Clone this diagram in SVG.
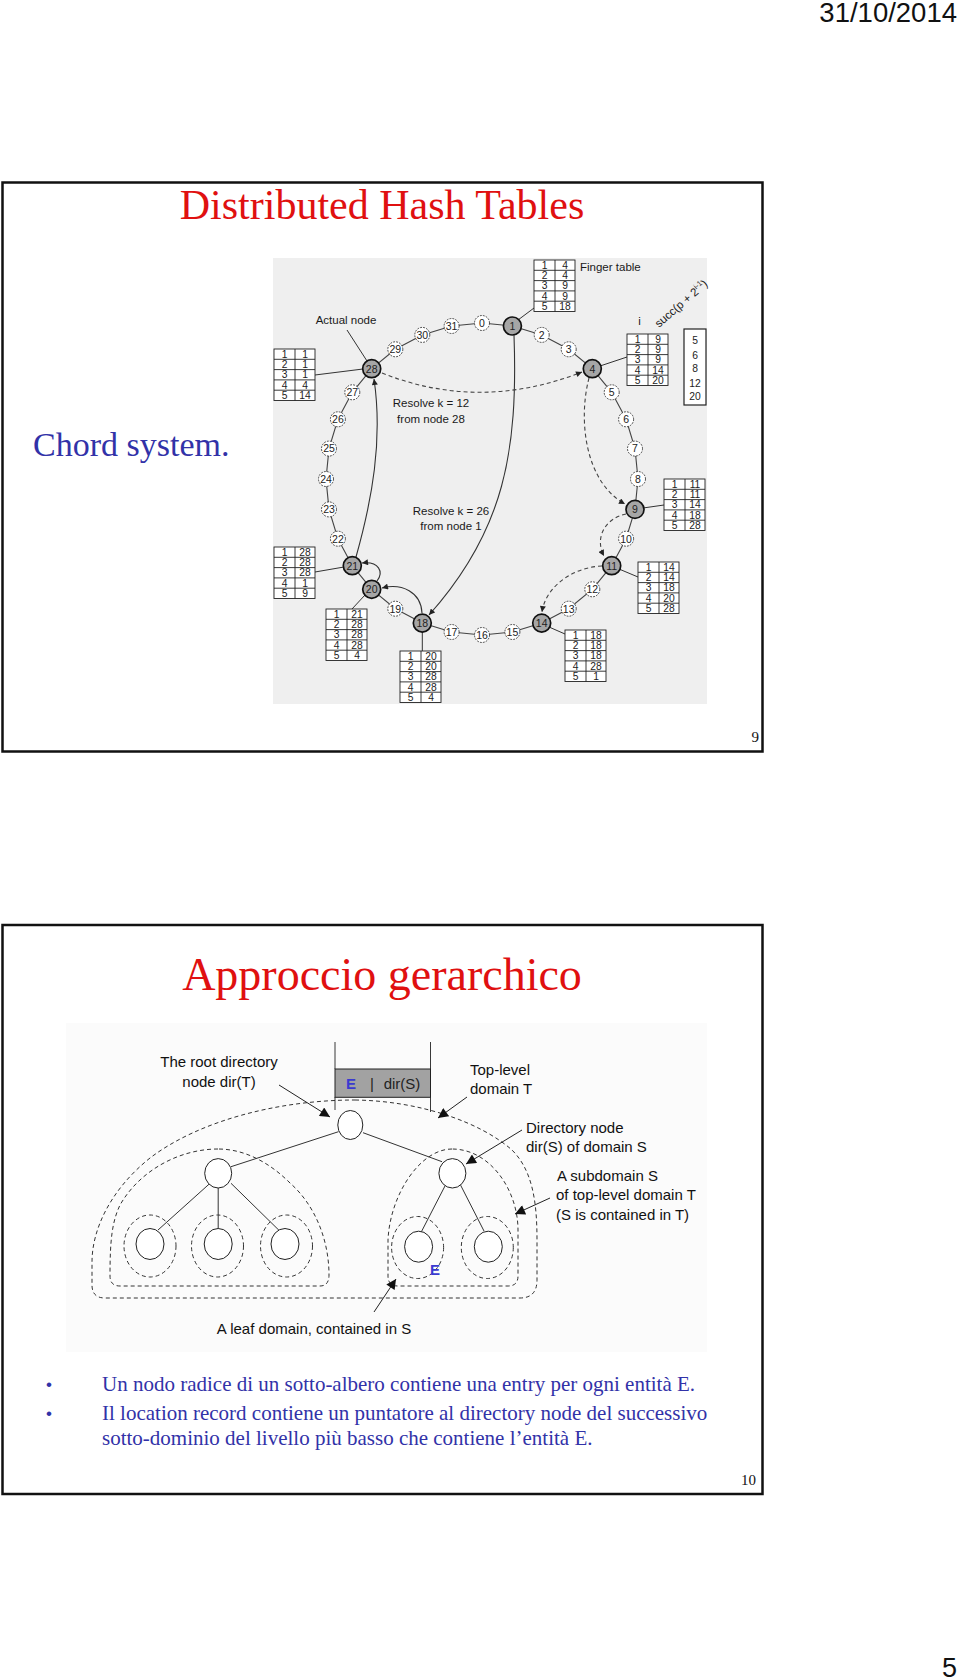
<svg xmlns="http://www.w3.org/2000/svg" xmlns:xlink="http://www.w3.org/1999/xlink" width="960" height="1680" viewBox="0 0 960 1680">
<style>
.frame{fill:none;stroke:#111;stroke-width:2.5}
.title{font-family:"Liberation Serif","Times New Roman",serif;fill:#e01010;text-anchor:middle}
.blue{font-family:"Liberation Serif","Times New Roman",serif;fill:#3232a8}
.bul{font-family:"Liberation Sans",Arial,sans-serif;fill:#3232a8;font-size:17px}
.pnum{font-family:"Liberation Serif","Times New Roman",serif;font-size:15px;fill:#111;text-anchor:end}
.ring{fill:none;stroke:#444;stroke-width:1.1}
.dn{fill:#fff;stroke:#333;stroke-width:0.9;stroke-dasharray:1.8 1.2}
.fn{fill:#a6a6a6;stroke:#111;stroke-width:1.7}
.nl{font-family:"Liberation Sans",Arial,sans-serif;font-size:10.5px;fill:#222;text-anchor:middle}
.tb{fill:#fff;stroke:#222;stroke-width:0.9}
.tt{font-family:"Liberation Sans",Arial,sans-serif;font-size:10.3px;fill:#222;text-anchor:middle}
.lbl{font-family:"Liberation Sans",Arial,sans-serif;font-size:11.5px;fill:#1a1a1a}
.ln{fill:none;stroke:#333;stroke-width:1}
.arr{fill:none;stroke:#333;stroke-width:1.1;marker-end:url(#ah)}
.darr{fill:none;stroke:#444;stroke-width:1.1;stroke-dasharray:4 3;marker-end:url(#ah)}
.dom{fill:none;stroke:#333;stroke-width:1;stroke-dasharray:4 3}
.hn{fill:#fff;stroke:#222;stroke-width:1}
.hl{font-family:"Liberation Sans",Arial,sans-serif;font-size:15px;fill:#111}
.harr{fill:none;stroke:#222;stroke-width:1;marker-end:url(#ah2)}
</style>
<defs>
<marker id="ah" viewBox="0 0 10 10" refX="10" refY="5" markerWidth="7" markerHeight="6" markerUnits="userSpaceOnUse" orient="auto"><path d="M0,0 L10,5 L0,10 z" fill="#222"/></marker>
<marker id="ah2" viewBox="0 0 10 10" refX="10" refY="5" markerWidth="13" markerHeight="10" markerUnits="userSpaceOnUse" orient="auto"><path d="M0,0 L10,5 L0,10 z" fill="#111"/></marker>
<g id="grid"><rect x="0" y="0" width="41" height="51.5" class="tb"/><path d="M21 0V51.5M0 10.3H41M0 20.6H41M0 30.9H41M0 41.2H41" stroke="#222" stroke-width="0.9" fill="none"/></g>
</defs>
<rect x="0" y="0" width="960" height="1680" fill="#fff"/>
<text x="957" y="22" font-family="Liberation Sans, Arial, sans-serif" font-size="27.5" fill="#111" text-anchor="end">31/10/2014</text>
<text x="957" y="1677" font-family="Liberation Sans, Arial, sans-serif" font-size="27" fill="#111" text-anchor="end">5</text>

<!-- Slide 1 -->
<g id="slide1">
<rect class="frame" x="2.5" y="182.5" width="760" height="569"/>
<text class="title" x="382" y="219" font-size="42">Distributed Hash Tables</text>
<text class="blue" x="33" y="456" font-size="34">Chord system.</text>
<text class="pnum" x="759" y="742">9</text>
</g>

<g id="chord">
<rect x="273" y="258" width="434" height="446" fill="#efefef"/>
<polygon class="ring" points="482,323 512.4,326 541.7,334.9 568.7,349.3 592.3,368.7 611.7,392.3 626.1,419.3 635,448.6 638,479 635,509.4 626.1,538.7 611.7,565.7 592.3,589.3 568.7,608.7 541.7,623.1 512.4,632 482,635 451.6,632 422.3,623.1 395.3,608.7 371.7,589.3 352.3,565.7 337.9,538.7 329,509.4 326,479 329,448.6 337.9,419.3 352.3,392.3 371.7,368.7 395.3,349.3 422.3,334.9 451.6,326"/>
<g id="table-links">
<path class="ln" d="M518 320L534 308M600 366L627 357M315 375L363 369M643 508L664 505M619 569L638 577M549 627L565 634M422.3 631.6L422.3 651M365 595L352 609M315 572L344 567M347 330L367 361"/>
</g>
<g id="connectors">
<path class="arr" d="M514 335 C518 450, 505 530, 429 615"/>
<path class="arr" d="M356 557 C372 500, 383 440, 374 379"/>
<path class="arr" d="M422 613 C421 592, 402 583, 382 588"/>
<path class="arr" d="M377 581 C384 572, 379 561, 362 563"/>
<path class="darr" d="M382 373 Q480 412, 582 372"/>
<path class="darr" d="M589 378 C578 420, 585 482, 625 504"/>
<path class="darr" d="M626 514 C606 518, 594 537, 604 556"/>
<path class="darr" d="M602 566 C575 567, 546 585, 542 612"/>
</g>
<g id="n0"><circle class="dn" cx="482" cy="323" r="7.5"/><text class="nl" x="482" y="326.8">0</text></g>
<g id="n1"><circle class="fn" cx="512.4" cy="326" r="9"/><text class="nl" x="512.4" y="329.8">1</text></g>
<g id="n2"><circle class="dn" cx="541.7" cy="334.9" r="7.5"/><text class="nl" x="541.7" y="338.7">2</text></g>
<g id="n3"><circle class="dn" cx="568.7" cy="349.3" r="7.5"/><text class="nl" x="568.7" y="353.1">3</text></g>
<g id="n4"><circle class="fn" cx="592.3" cy="368.7" r="9"/><text class="nl" x="592.3" y="372.5">4</text></g>
<g id="n5"><circle class="dn" cx="611.7" cy="392.3" r="7.5"/><text class="nl" x="611.7" y="396.1">5</text></g>
<g id="n6"><circle class="dn" cx="626.1" cy="419.3" r="7.5"/><text class="nl" x="626.1" y="423.1">6</text></g>
<g id="n7"><circle class="dn" cx="635" cy="448.6" r="7.5"/><text class="nl" x="635" y="452.4">7</text></g>
<g id="n8"><circle class="dn" cx="638" cy="479" r="7.5"/><text class="nl" x="638" y="482.8">8</text></g>
<g id="n9"><circle class="fn" cx="635" cy="509.4" r="9"/><text class="nl" x="635" y="513.2">9</text></g>
<g id="n10"><circle class="dn" cx="626.1" cy="538.7" r="7.5"/><text class="nl" x="626.1" y="542.5">10</text></g>
<g id="n11"><circle class="fn" cx="611.7" cy="565.7" r="9"/><text class="nl" x="611.7" y="569.5">11</text></g>
<g id="n12"><circle class="dn" cx="592.3" cy="589.3" r="7.5"/><text class="nl" x="592.3" y="593.1">12</text></g>
<g id="n13"><circle class="dn" cx="568.7" cy="608.7" r="7.5"/><text class="nl" x="568.7" y="612.5">13</text></g>
<g id="n14"><circle class="fn" cx="541.7" cy="623.1" r="9"/><text class="nl" x="541.7" y="626.9">14</text></g>
<g id="n15"><circle class="dn" cx="512.4" cy="632" r="7.5"/><text class="nl" x="512.4" y="635.8">15</text></g>
<g id="n16"><circle class="dn" cx="482" cy="635" r="7.5"/><text class="nl" x="482" y="638.8">16</text></g>
<g id="n17"><circle class="dn" cx="451.6" cy="632" r="7.5"/><text class="nl" x="451.6" y="635.8">17</text></g>
<g id="n18"><circle class="fn" cx="422.3" cy="623.1" r="9"/><text class="nl" x="422.3" y="626.9">18</text></g>
<g id="n19"><circle class="dn" cx="395.3" cy="608.7" r="7.5"/><text class="nl" x="395.3" y="612.5">19</text></g>
<g id="n20"><circle class="fn" cx="371.7" cy="589.3" r="9"/><text class="nl" x="371.7" y="593.1">20</text></g>
<g id="n21"><circle class="fn" cx="352.3" cy="565.7" r="9"/><text class="nl" x="352.3" y="569.5">21</text></g>
<g id="n22"><circle class="dn" cx="337.9" cy="538.7" r="7.5"/><text class="nl" x="337.9" y="542.5">22</text></g>
<g id="n23"><circle class="dn" cx="329" cy="509.4" r="7.5"/><text class="nl" x="329" y="513.2">23</text></g>
<g id="n24"><circle class="dn" cx="326" cy="479" r="7.5"/><text class="nl" x="326" y="482.8">24</text></g>
<g id="n25"><circle class="dn" cx="329" cy="448.6" r="7.5"/><text class="nl" x="329" y="452.4">25</text></g>
<g id="n26"><circle class="dn" cx="337.9" cy="419.3" r="7.5"/><text class="nl" x="337.9" y="423.1">26</text></g>
<g id="n27"><circle class="dn" cx="352.3" cy="392.3" r="7.5"/><text class="nl" x="352.3" y="396.1">27</text></g>
<g id="n28"><circle class="fn" cx="371.7" cy="368.7" r="9"/><text class="nl" x="371.7" y="372.5">28</text></g>
<g id="n29"><circle class="dn" cx="395.3" cy="349.3" r="7.5"/><text class="nl" x="395.3" y="353.1">29</text></g>
<g id="n30"><circle class="dn" cx="422.3" cy="334.9" r="7.5"/><text class="nl" x="422.3" y="338.7">30</text></g>
<g id="n31"><circle class="dn" cx="451.6" cy="326" r="7.5"/><text class="nl" x="451.6" y="329.8">31</text></g>

<g id="t1" transform="translate(534,260)"><use xlink:href="#grid"/><text class="tt"><tspan x="10.5" y="8.8">1</tspan><tspan x="10.5" y="19.1">2</tspan><tspan x="10.5" y="29.4">3</tspan><tspan x="10.5" y="39.7">4</tspan><tspan x="10.5" y="50">5</tspan><tspan x="31" y="8.8">4</tspan><tspan x="31" y="19.1">4</tspan><tspan x="31" y="29.4">9</tspan><tspan x="31" y="39.7">9</tspan><tspan x="31" y="50">18</tspan></text></g>
<g id="t4" transform="translate(627,334)"><use xlink:href="#grid"/><text class="tt"><tspan x="10.5" y="8.8">1</tspan><tspan x="10.5" y="19.1">2</tspan><tspan x="10.5" y="29.4">3</tspan><tspan x="10.5" y="39.7">4</tspan><tspan x="10.5" y="50">5</tspan><tspan x="31" y="8.8">9</tspan><tspan x="31" y="19.1">9</tspan><tspan x="31" y="29.4">9</tspan><tspan x="31" y="39.7">14</tspan><tspan x="31" y="50">20</tspan></text></g>
<g id="t28" transform="translate(274,349)"><use xlink:href="#grid"/><text class="tt"><tspan x="10.5" y="8.8">1</tspan><tspan x="10.5" y="19.1">2</tspan><tspan x="10.5" y="29.4">3</tspan><tspan x="10.5" y="39.7">4</tspan><tspan x="10.5" y="50">5</tspan><tspan x="31" y="8.8">1</tspan><tspan x="31" y="19.1">1</tspan><tspan x="31" y="29.4">1</tspan><tspan x="31" y="39.7">4</tspan><tspan x="31" y="50">14</tspan></text></g>
<g id="t9" transform="translate(664,479)"><use xlink:href="#grid"/><text class="tt"><tspan x="10.5" y="8.8">1</tspan><tspan x="10.5" y="19.1">2</tspan><tspan x="10.5" y="29.4">3</tspan><tspan x="10.5" y="39.7">4</tspan><tspan x="10.5" y="50">5</tspan><tspan x="31" y="8.8">11</tspan><tspan x="31" y="19.1">11</tspan><tspan x="31" y="29.4">14</tspan><tspan x="31" y="39.7">18</tspan><tspan x="31" y="50">28</tspan></text></g>
<g id="t11" transform="translate(638,562)"><use xlink:href="#grid"/><text class="tt"><tspan x="10.5" y="8.8">1</tspan><tspan x="10.5" y="19.1">2</tspan><tspan x="10.5" y="29.4">3</tspan><tspan x="10.5" y="39.7">4</tspan><tspan x="10.5" y="50">5</tspan><tspan x="31" y="8.8">14</tspan><tspan x="31" y="19.1">14</tspan><tspan x="31" y="29.4">18</tspan><tspan x="31" y="39.7">20</tspan><tspan x="31" y="50">28</tspan></text></g>
<g id="t14" transform="translate(565,630)"><use xlink:href="#grid"/><text class="tt"><tspan x="10.5" y="8.8">1</tspan><tspan x="10.5" y="19.1">2</tspan><tspan x="10.5" y="29.4">3</tspan><tspan x="10.5" y="39.7">4</tspan><tspan x="10.5" y="50">5</tspan><tspan x="31" y="8.8">18</tspan><tspan x="31" y="19.1">18</tspan><tspan x="31" y="29.4">18</tspan><tspan x="31" y="39.7">28</tspan><tspan x="31" y="50">1</tspan></text></g>
<g id="t18" transform="translate(400,651)"><use xlink:href="#grid"/><text class="tt"><tspan x="10.5" y="8.8">1</tspan><tspan x="10.5" y="19.1">2</tspan><tspan x="10.5" y="29.4">3</tspan><tspan x="10.5" y="39.7">4</tspan><tspan x="10.5" y="50">5</tspan><tspan x="31" y="8.8">20</tspan><tspan x="31" y="19.1">20</tspan><tspan x="31" y="29.4">28</tspan><tspan x="31" y="39.7">28</tspan><tspan x="31" y="50">4</tspan></text></g>
<g id="t20" transform="translate(326,609)"><use xlink:href="#grid"/><text class="tt"><tspan x="10.5" y="8.8">1</tspan><tspan x="10.5" y="19.1">2</tspan><tspan x="10.5" y="29.4">3</tspan><tspan x="10.5" y="39.7">4</tspan><tspan x="10.5" y="50">5</tspan><tspan x="31" y="8.8">21</tspan><tspan x="31" y="19.1">28</tspan><tspan x="31" y="29.4">28</tspan><tspan x="31" y="39.7">28</tspan><tspan x="31" y="50">4</tspan></text></g>
<g id="t21" transform="translate(274,547)"><use xlink:href="#grid"/><text class="tt"><tspan x="10.5" y="8.8">1</tspan><tspan x="10.5" y="19.1">2</tspan><tspan x="10.5" y="29.4">3</tspan><tspan x="10.5" y="39.7">4</tspan><tspan x="10.5" y="50">5</tspan><tspan x="31" y="8.8">28</tspan><tspan x="31" y="19.1">28</tspan><tspan x="31" y="29.4">28</tspan><tspan x="31" y="39.7">1</tspan><tspan x="31" y="50">9</tspan></text></g>

<g id="succ-box"><rect x="684" y="329" width="22" height="76" fill="#fff" stroke="#222" stroke-width="1.2"/><text class="tt" font-size="10.5"><tspan x="695" y="344">5</tspan><tspan x="695" y="358.5">6</tspan><tspan x="695" y="372">8</tspan><tspan x="695" y="387">12</tspan><tspan x="695" y="399.5">20</tspan></text></g>
<g id="labels">
<text class="lbl" x="580" y="271">Finger table</text>
<text class="lbl" x="346" y="324" text-anchor="middle">Actual node</text>
<text class="lbl" x="431" y="407" text-anchor="middle">Resolve k = 12</text>
<text class="lbl" x="431" y="423" text-anchor="middle">from node 28</text>
<text class="lbl" x="451" y="515" text-anchor="middle">Resolve k = 26</text>
<text class="lbl" x="451" y="530" text-anchor="middle">from node 1</text>
<text class="lbl" x="639.5" y="325" text-anchor="middle" font-size="10">i</text>
<text class="lbl" font-size="11" transform="translate(659,328) rotate(-41)">succ(p + 2<tspan font-size="7.5" dy="-4.5">i-1</tspan><tspan dy="4.5">)</tspan></text>
</g>
</g>

<!-- Slide 2 -->
<g id="slide2">
<rect class="frame" x="2.5" y="925" width="760" height="569"/>
<text class="title" x="382" y="990" font-size="46">Approccio gerarchico</text>
<text class="bul" x="46" y="1390">•</text>
<text class="blue" x="102" y="1391" font-size="21">Un nodo radice di un sotto-albero contiene una entry per ogni entità E.</text>
<text class="bul" x="46" y="1419">•</text>
<text class="blue" x="102" y="1420" font-size="21">Il location record contiene un puntatore al directory node del successivo</text>
<text class="blue" x="102" y="1445" font-size="21">sotto-dominio del livello più basso che contiene l’entità E.</text>
<text class="pnum" x="756" y="1485">10</text>
</g>

<g id="hier">
<rect x="66" y="1023" width="641" height="329" fill="#fbfbfb"/>
<g id="domains">
<path id="dom-T" class="dom" d="M355 1100 C420 1101, 480 1122, 512 1150 C532 1170, 537 1200, 537 1240 L537 1280 Q537 1298, 520 1298 L105 1298 Q92 1298, 92 1285 L92 1262 C92 1230, 110 1190, 150 1158 C200 1120, 280 1100, 355 1100 Z"/>
<path id="dom-S1" class="dom" d="M218 1149 C180 1149, 140 1170, 120 1205 C112 1222, 110 1240, 110 1276 Q110 1286, 120 1286 L320 1286 Q329 1286, 329 1275 C329 1240, 315 1205, 290 1183 C270 1163, 245 1149, 218 1149 Z"/>
<path id="dom-S" class="dom" d="M452 1149 C420 1149, 390 1195, 388 1240 L388 1276 Q388 1286, 398 1286 L508 1286 Q518 1286, 518 1276 L518 1230 C518 1190, 490 1149, 452 1149 Z"/>
<ellipse class="dom" cx="150" cy="1246" rx="26" ry="31"/>
<ellipse class="dom" cx="217.5" cy="1246" rx="26" ry="31"/>
<ellipse class="dom" cx="286.5" cy="1246" rx="26" ry="31"/>
<ellipse class="dom" cx="417.6" cy="1247.5" rx="26" ry="31"/>
<ellipse class="dom" cx="487.3" cy="1247.5" rx="26" ry="31"/>
</g>
<g id="tree-edges">
<path class="ln" d="M338.5 1131.7L231 1166.7M363 1132.7L442 1161.7M210 1183.3L158 1230M218.2 1188L218.2 1229M231 1183.3L279.4 1230.7M446 1184L421 1232.5M460 1184L484 1231"/>
</g>
<g id="root"><ellipse class="hn" cx="350.3" cy="1125" rx="12.5" ry="14.5"/></g>
<g id="dirS1"><ellipse class="hn" cx="218.2" cy="1173.3" rx="13.5" ry="14.7"/></g>
<g id="dirS"><ellipse class="hn" cx="452.4" cy="1173.3" rx="13.5" ry="14.7"/></g>
<g id="leaf1"><ellipse class="hn" cx="150" cy="1244" rx="14" ry="15.5"/></g>
<g id="leaf2"><ellipse class="hn" cx="218.2" cy="1244" rx="14" ry="15.5"/></g>
<g id="leaf3"><ellipse class="hn" cx="285" cy="1244" rx="14" ry="15.5"/></g>
<g id="leaf4"><ellipse class="hn" cx="418.6" cy="1246.7" rx="14" ry="15.5"/></g>
<g id="leaf5"><ellipse class="hn" cx="488.3" cy="1246.7" rx="14" ry="15.5"/></g>
<g id="record">
<path d="M335 1042V1069M430.5 1042V1069M335 1097V1110M430.5 1097V1112" stroke="#222" stroke-width="0.9" fill="none"/>
<rect x="335" y="1069" width="95.5" height="28.3" fill="#a2a2a2" stroke="#222" stroke-width="1"/>
<text x="351" y="1089" font-family="Liberation Sans, Arial, sans-serif" font-size="15" font-weight="bold" fill="#3a3ad0" text-anchor="middle">E</text>
<text x="372" y="1089" font-family="Liberation Sans, Arial, sans-serif" font-size="15" fill="#222" text-anchor="middle">|</text>
<text x="402" y="1089" font-family="Liberation Sans, Arial, sans-serif" font-size="15" fill="#222" text-anchor="middle">dir(S)</text>
</g>
<g id="hier-arrows">
<path class="harr" d="M279 1085L330 1117"/>
<path class="harr" d="M467 1097L438 1118"/>
<path class="harr" d="M522 1130L466 1164"/>
<path class="harr" d="M550 1198L515 1214"/>
<path class="harr" d="M374 1312L396 1279"/>
</g>
<g id="hier-labels">
<text class="hl" x="219" y="1067" text-anchor="middle">The root directory</text>
<text class="hl" x="219" y="1087" text-anchor="middle">node dir(T)</text>
<text class="hl" x="470" y="1075">Top-level</text>
<text class="hl" x="470" y="1094">domain T</text>
<text class="hl" x="526" y="1133">Directory node</text>
<text class="hl" x="526" y="1152">dir(S) of domain S</text>
<text class="hl" x="557" y="1181">A subdomain S</text>
<text class="hl" x="556" y="1200">of top-level domain T</text>
<text class="hl" x="556" y="1220">(S is contained in T)</text>
<text class="hl" x="314" y="1334" text-anchor="middle">A leaf domain, contained in S</text>
<text x="435" y="1275" font-family="Liberation Sans, Arial, sans-serif" font-size="15" font-weight="bold" fill="#3a3ad0" text-anchor="middle">E</text>
</g>
</g>
</svg>
